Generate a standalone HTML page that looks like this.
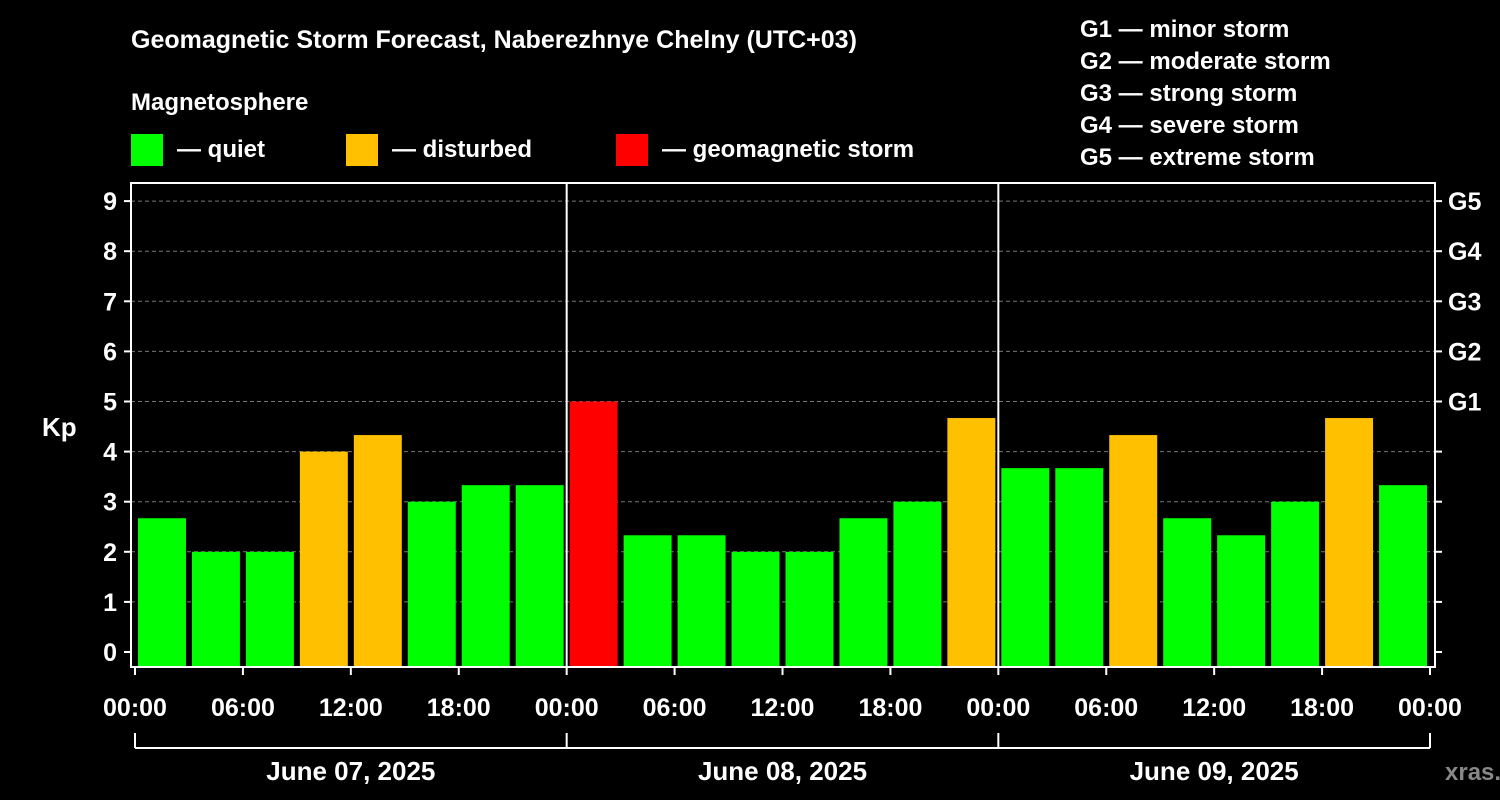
<!DOCTYPE html>
<html><head><meta charset="utf-8"><style>
html,body{margin:0;padding:0;background:#000;}
svg{display:block;font-family:"Liberation Sans",Arial,sans-serif;font-weight:bold;}
</style></head><body>
<svg id="chart" width="1500" height="800" viewBox="0 0 1500 800">
<rect width="1500" height="800" fill="#000"/>
<text x="131" y="48" fill="#fff" font-size="25">Geomagnetic Storm Forecast, Naberezhnye Chelny (UTC+03)</text>
<text x="131" y="110" fill="#fff" font-size="24">Magnetosphere</text>
<g><rect x="131" y="134" width="32" height="32" fill="#00ff00"/><text x="177" y="157" fill="#fff" font-size="24">— quiet</text></g>
<g><rect x="346" y="134" width="32" height="32" fill="#ffc000"/><text x="392" y="157" fill="#fff" font-size="24">— disturbed</text></g>
<g><rect x="616" y="134" width="32" height="32" fill="#ff0000"/><text x="662" y="157" fill="#fff" font-size="24">— geomagnetic storm</text></g>
<g fill="#fff" font-size="24">
<text x="1080" y="37">G1 — minor storm</text>
<text x="1080" y="69">G2 — moderate storm</text>
<text x="1080" y="101">G3 — strong storm</text>
<text x="1080" y="133">G4 — severe storm</text>
<text x="1080" y="165">G5 — extreme storm</text>
</g>
<text x="42" y="436" fill="#fff" font-size="26">Kp</text>
<text x="1445" y="780" fill="#888" font-size="24">xras.ru</text>
<g id="grid"></g><g id="bars"></g><g id="axes"></g>
</svg>
<script>
const kpValues = [2.67,2,2,4,4.33,3,3.33,3.33, 5,2.33,2.33,2,2,2.67,3,4.67, 3.67,3.67,4.33,2.67,2.33,3,4.67,3.33];
const dayLabels = ["June 07, 2025","June 08, 2025","June 09, 2025"];
const timeLabels = ["00:00","06:00","12:00","18:00"];
const yTicks = [0,1,2,3,4,5,6,7,8,9];
const gLabels = ["G1","G2","G3","G4","G5"];

const NS="http://www.w3.org/2000/svg";
const L=131,R=1435,T=183,B=667,X0=135,X1=1430;
const y=v=>652-v*50.1;
const x=h=>X0+(X1-X0)*h/72;
function mk(tag,at,parent){const e=document.createElementNS(NS,tag);for(const k in at)e.setAttribute(k,at[k]);document.getElementById(parent).appendChild(e);return e;}
function color(v){return v>=5?"#ff0000":v>=4?"#ffc000":"#00ff00";}
yTicks.forEach(v=>{if(v===0)return;const g=mk("line",{x1:L,x2:R,y1:y(v),y2:y(v),stroke:"#777","stroke-dasharray":"4,3","stroke-width":1},"grid");

});
kpValues.forEach((v,i)=>{const x0=x(i*3),x1=x(i*3+3);const r=mk("rect",{x:x0+3,y:y(v),width:x1-x0-6,height:B-y(v),fill:color(v)},"bars");

});
// frame
const f=mk("rect",{x:L,y:T,width:R-L,height:B-T,fill:"none",stroke:"#fff","stroke-width":2},"axes");


[1,2].forEach(d=>{const s=mk("line",{x1:x(d*24),x2:x(d*24),y1:T,y2:B,stroke:"#fff","stroke-width":2},"axes");

});
yTicks.forEach(v=>{
mk("line",{x1:L-7,x2:L,y1:y(v),y2:y(v),stroke:"#fff","stroke-width":2},"axes");
mk("line",{x1:R,x2:R+7,y1:y(v),y2:y(v),stroke:"#fff","stroke-width":2},"axes");
const t=mk("text",{x:L-14,y:y(v)+9,fill:"#fff","font-size":25,"text-anchor":"end"},"axes");t.textContent=v;


if(v>=5){const g=mk("text",{x:R+13,y:y(v)+9,fill:"#fff","font-size":25},"axes");g.textContent=gLabels[v-5];

}
});
for(let k=0;k<=12;k++){const h=k*6;
mk("line",{x1:x(h),x2:x(h),y1:B,y2:B+8,stroke:"#fff","stroke-width":2},"axes");
const t=mk("text",{x:x(h),y:716,fill:"#fff","font-size":25,"text-anchor":"middle"},"axes");t.textContent=timeLabels[k%4];

}
const br=mk("line",{x1:X0,x2:X1,y1:748,y2:748,stroke:"#fff","stroke-width":2},"axes");


[0,1,2,3].forEach(d=>mk("line",{x1:x(d*24),x2:x(d*24),y1:733,y2:748,stroke:"#fff","stroke-width":2},"axes"));
dayLabels.forEach((s,d)=>{const t=mk("text",{x:x(d*24+12),y:780,fill:"#fff","font-size":26,"text-anchor":"middle"},"axes");t.textContent=s;

});
</script>
</body></html>
